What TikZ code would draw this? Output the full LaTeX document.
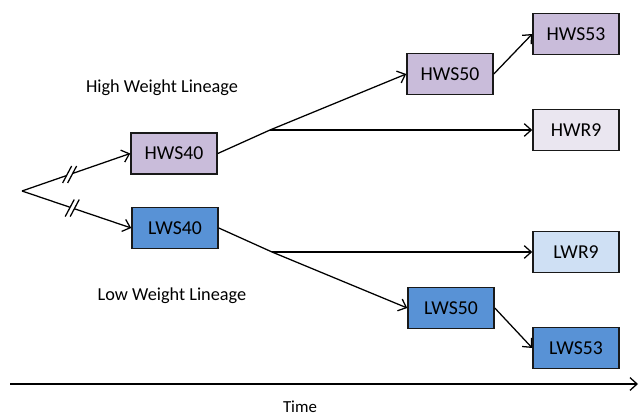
\documentclass[tikz,border=0pt]{standalone}
\usepackage{fontspec}
\setmainfont{Carlito}
\usepackage{xcolor}
\usetikzlibrary{arrows.meta, positioning}

\definecolor{hwsfill}{RGB}{201,188,218}
\definecolor{hwrfill}{RGB}{234,230,240}
\definecolor{lwsfill}{RGB}{88,146,214}
\definecolor{lwrfill}{RGB}{207,224,244}

\begin{document}
\begin{tikzpicture}[x=0.025cm, y=0.025cm,
  box/.style={draw=black!90, line width=1.1pt, minimum width=2.15cm, minimum height=1.03cm,
    inner sep=0pt, font=\fontsize{14}{16}\selectfont},
  lbl/.style={font=\fontsize{13}{15}\selectfont},
  arr/.style={line width=0.9pt, -{Straight Barb[length=5pt, width=9pt]}},
  ln/.style={line width=0.9pt},
  brk/.pic={% the "//" cut on the first two branches
    \fill[white] (-7,-8.5) -- (-2,-8.5) -- (7,8.5) -- (2,8.5) -- cycle;
    \draw[ln, -] (-7,-8.5) -- (2,8.5);
    \draw[ln, -] (-2,-8.5) -- (7,8.5);
  }]
\useasboundingbox (0,0) rectangle (640,415);

% strains
\node[box, fill=hwsfill] (hws40) at (174,261.5) {HWS40};
\node[box, fill=lwsfill] (lws40) at (175,187) {LWS40};
\node[box, fill=hwsfill] (hws50) at (450,341) {HWS50};
\node[box, fill=hwsfill] (hws53) at (576,381) {HWS53};
\node[box, fill=hwrfill] (hwr9)  at (576,285) {HWR9};
\node[box, fill=lwrfill] (lwr9)  at (576,163) {LWR9};
\node[box, fill=lwsfill] (lws50) at (451,107) {LWS50};
\node[box, fill=lwsfill] (lws53) at (576,67)  {LWS53};

\node[lbl] (hlab) at (162,327) {High Weight Lineage};
\node[lbl] (llab) at (172,119) {Low Weight Lineage};

% branch points
\coordinate (root) at (22,224);
\coordinate (hsplit) at (270,285);
\coordinate (lsplit) at (272,163);

\draw[arr] (root) -- pic[pos=0.44]{brk} (hws40.west);
\draw[arr] (root) -- pic[pos=0.46]{brk} (lws40.west);

\draw[ln] (hws40.east) -- (hsplit);
\draw[arr] (hsplit) -- (hws50.west);
\draw[arr] (hsplit) -- (hwr9.west);
\draw[arr] (hws50.east) -- (hws53.west);

\draw[ln] (lws40.east) -- (lsplit);
\draw[arr] (lsplit) -- (lwr9.west);
\draw[arr] (lsplit) -- (lws50.west);
\draw[arr] (lws50.east) -- (lws53.west);

% time axis
\coordinate (t0) at (10,31);
\coordinate (t1) at (638,31);
\draw[arr] (t0) -- (t1);
\node[font=\fontsize{12}{14}\selectfont] (time) at (300,8) {Time};
\end{tikzpicture}
\end{document}
